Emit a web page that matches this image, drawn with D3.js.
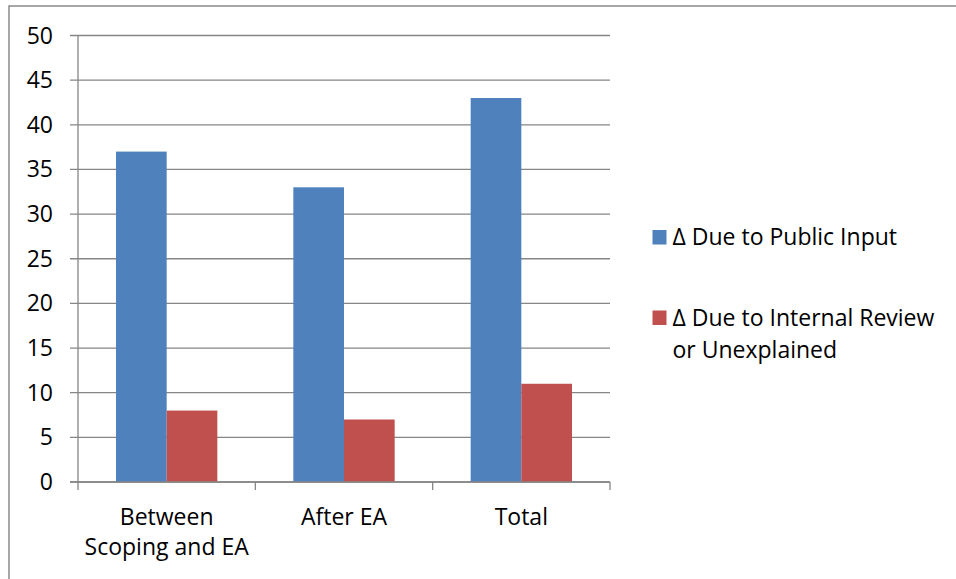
<!DOCTYPE html>
<html>
<head>
<meta charset="utf-8">
<script src="https://cdn.jsdelivr.net/npm/d3@7"></script>
<style>
  body { margin: 0; background: #fff; }
  text { font-family: "Open Sans", sans-serif; fill: #000; }
</style>
</head>
<body>
<div id="chart"></div>
<script>
// data
const categories = ["Between\nScoping and EA", "After EA", "Total"];
const seriesNames = ["\u0394 Due to Public Input", "\u0394 Due to Internal Review\nor Unexplained"];
const publicInput = [37, 33, 43];
const internalReview = [8, 7, 11];
const yTicks = [0, 5, 10, 15, 20, 25, 30, 35, 40, 45, 50];

const colors = ["#4F81BD", "#C0504D"];
const gridColor = "#868686";

const width = 956, height = 579;
const fontSize = 23;

const svg = d3.select("#chart").append("svg")
    .attr("width", width)
    .attr("height", height);

// outer chart border (right/bottom fall off the picture)
svg.append("rect")
    .attr("x", 9).attr("y", 6)
    .attr("width", 1000).attr("height", 1000)
    .attr("fill", "none")
    .attr("stroke", "#898989")
    .attr("stroke-width", 1.5);

const plot = { left: 78, right: 610, top: 35.5, bottom: 482 };

const x = d3.scaleBand()
    .domain(categories)
    .range([plot.left, plot.right])
    .paddingInner(0).paddingOuter(0);

const y = d3.scaleLinear()
    .domain([0, 50])
    .range([plot.bottom, plot.top]);

// gridlines + y tick marks
svg.append("g")
    .selectAll("line")
    .data(yTicks)
    .join("line")
    .attr("x1", plot.left - 8)
    .attr("x2", plot.right)
    .attr("y1", d => y(d))
    .attr("y2", d => y(d))
    .attr("stroke", gridColor)
    .attr("stroke-width", 1.3);

// y axis line
svg.append("line")
    .attr("x1", plot.left).attr("x2", plot.left)
    .attr("y1", plot.top).attr("y2", plot.bottom)
    .attr("stroke", gridColor).attr("stroke-width", 1.3);

// y labels
svg.append("g")
    .selectAll("text")
    .data(yTicks)
    .join("text")
    .attr("x", 53)
    .attr("y", d => y(d) + 8)
    .attr("text-anchor", "end")
    .style("font-size", fontSize + "px")
    .text(d => d);

// bars, excel style gap width 150%
const groups = [publicInput, internalReview];
const barW = x.bandwidth() / 3.5;
const offset = x.bandwidth() * 0.75 / 3.5;

groups.forEach((vals, s) => {
    svg.append("g")
        .selectAll("rect")
        .data(vals)
        .join("rect")
        .attr("x", (d, i) => x(categories[i]) + offset + s * barW)
        .attr("y", d => y(d))
        .attr("width", barW)
        .attr("height", d => y(0) - y(d))
        .attr("fill", colors[s]);
});

// x axis line + category ticks
svg.append("line")
    .attr("x1", plot.left - 8).attr("x2", plot.right)
    .attr("y1", plot.bottom).attr("y2", plot.bottom)
    .attr("stroke", gridColor).attr("stroke-width", 1.3);

const tickX = categories.map(c => x(c)).concat([plot.right]);
svg.append("g")
    .selectAll("line")
    .data(tickX)
    .join("line")
    .attr("x1", d => d).attr("x2", d => d)
    .attr("y1", plot.bottom).attr("y2", plot.bottom + 8)
    .attr("stroke", gridColor).attr("stroke-width", 1.3);

// category labels
const catLabels = svg.append("g")
    .selectAll("text")
    .data(categories)
    .join("text")
    .attr("text-anchor", "middle")
    .style("font-size", fontSize + "px");

catLabels.each(function (d) {
    const t = d3.select(this);
    d.split("\n").forEach((line, k) => {
        t.append("tspan")
            .attr("x", x(d) + x.bandwidth() / 2)
            .attr("y", 525 + k * 30)
            .text(line);
    });
});

// legend
const legendY = [230, 310.5];
const legend = svg.append("g");
seriesNames.forEach((name, s) => {
    legend.append("rect")
        .attr("x", 652.5).attr("y", legendY[s])
        .attr("width", 14).attr("height", 14.5)
        .attr("fill", colors[s]);
    const t = legend.append("text")
        .style("font-size", fontSize + "px");
    name.split("\n").forEach((line, k) => {
        t.append("tspan")
            .attr("x", 672.5)
            .attr("y", legendY[s] + 15 + k * 32)
            .text(line);
    });
});
</script>
</body>
</html>
